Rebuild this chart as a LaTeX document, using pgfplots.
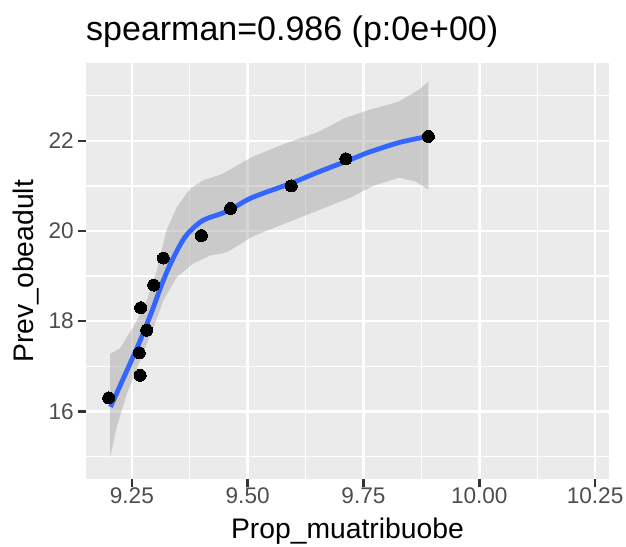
\documentclass[border=0pt]{standalone}
\usepackage{fontspec}
\setmainfont{Liberation Sans}
\usepackage{pgfplots}
\pgfplotsset{compat=1.18}
\definecolor{panelbg}{HTML}{EBEBEB}
\definecolor{tickgray}{HTML}{4D4D4D}
\definecolor{tickmark}{HTML}{333333}
\definecolor{smoothcol}{HTML}{3366FF}
\definecolor{ribboncol}{HTML}{999999}
\begin{document}
\begin{tikzpicture}
\path[use as bounding box] (0,0) rectangle (626pt,546pt);
\begin{axis}[
  at={(86pt,67pt)}, anchor=south west,
  scale only axis, width=523pt, height=415.7pt,
  xmin=9.151, xmax=10.28, ymin=14.5, ymax=23.72,
  axis background/.style={fill=panelbg},
  axis line style={draw=none},
  xtick={9.25,9.5,9.75,10,10.25},
  xticklabels={9.25,9.50,9.75,10.00,10.25},
  ytick={16,18,20,22},
  minor xtick={9.375,9.625,9.875,10.125},
  minor ytick={15,17,19,21,23},
  grid=both,
  major grid style={white, line width=2.5pt},
  minor grid style={white, line width=1.3pt},
  tick align=outside, tick pos=left,
  major tick length=8pt, minor tick length=0pt,
  major tick style={tickmark, line width=2.5pt},
  ticklabel style={font=\fontsize{22.6}{27}\selectfont, text=tickgray, inner sep=0pt},
  xticklabel style={anchor=north, yshift=-1pt},
  yticklabel style={anchor=east, xshift=-4pt},
  /pgf/number format/assume math mode=true,
  title={spearman=0.986 (p:0e+00)},
  title style={at={(axis description cs:0,1.0416)}, anchor=base west, inner sep=0pt, font=\fontsize{34}{40}\selectfont},
  xlabel={Prop\_muatribuobe},
  xlabel style={at={(axis description cs:0.5,-0.1443)}, anchor=base, inner sep=0pt, font=\fontsize{28.3}{34}\selectfont},
  ylabel={Prev\_obeadult},
  ylabel style={at={(axis description cs:-0.1013,0.5)}, anchor=base, inner sep=0pt, font=\fontsize{28.3}{34}\selectfont},
]
% points
\addplot[only marks, mark=*, mark size=6pt, mark options={fill=black, draw=black, line width=0pt}] coordinates {
(9.200,16.3) (9.268,16.8) (9.266,17.3) (9.282,17.8) (9.269,18.3) (9.297,18.8)
(9.318,19.4) (9.400,19.9) (9.463,20.5) (9.594,21.0) (9.712,21.6) (9.890,22.1)
};
% confidence ribbon
\addplot[draw=none, fill=ribboncol, fill opacity=0.4] coordinates {
(9.203,17.28) (9.224,17.39) (9.257,17.94) (9.282,18.46) (9.304,19.13) (9.325,20.02)
(9.347,20.53) (9.376,20.94) (9.405,21.13) (9.444,21.26) (9.509,21.64) (9.581,21.94)
(9.653,22.20) (9.709,22.50) (9.754,22.66) (9.826,22.87) (9.869,23.13) (9.890,23.31)
(9.890,20.92) (9.862,21.10) (9.826,21.18) (9.770,21.00) (9.726,20.76) (9.653,20.46)
(9.581,20.17) (9.509,19.87) (9.459,19.55) (9.444,19.50) (9.419,19.46) (9.383,19.28)
(9.347,18.98) (9.318,18.46) (9.297,17.87) (9.268,17.13) (9.239,16.39) (9.217,15.64)
(9.203,14.98)
} -- cycle;
% loess line
\addplot[smooth, tension=0.5, color=smoothcol, line width=4.8pt] coordinates {
(9.204,16.10) (9.236,16.83) (9.265,17.50) (9.294,18.24) (9.315,18.83) (9.337,19.35)
(9.365,19.87) (9.401,20.22) (9.444,20.39) (9.464,20.48) (9.509,20.74) (9.594,21.06)
(9.653,21.31) (9.726,21.60) (9.754,21.72) (9.826,21.96) (9.890,22.10)
};
\end{axis}
\end{tikzpicture}
\end{document}
